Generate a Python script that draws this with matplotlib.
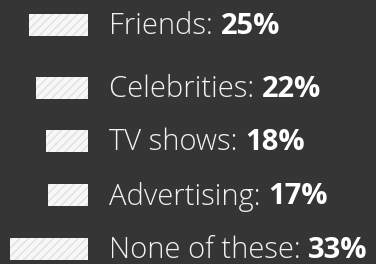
import matplotlib
matplotlib.use('Agg')
from matplotlib import pyplot as plt

# data
categories = ['Friends', 'Celebrities', 'TV shows', 'Advertising', 'None of these']
values = [25, 22, 18, 17, 33]

# layout (pixel rows of the 376x264 picture)
row_centers = [25, 88, 141, 195, 249]
bar_height = 22
px_per_pct = 2.36
bar_end_px = 88
text_px = 109

bg = '#353535'
plt.rcParams['hatch.color'] = '#dedede'
plt.rcParams['hatch.linewidth'] = 0.9

fig = plt.figure(figsize=(3.76, 2.64), dpi=100)
fig.set_facecolor(bg)
ax = fig.add_axes((0, 0, 1, 1))
ax.set_facecolor(bg)

# x in percent, bars end at 0 and grow to the left
ax.set_xlim(-bar_end_px / px_per_pct, (376 - bar_end_px) / px_per_pct)
ax.set_ylim(264, 0)
ax.axis('off')

ax.barh(row_centers, [-v for v in values], height=bar_height, left=0,
        color='#f7f7f7', edgecolor='#dedede', hatch='////', linewidth=0)

tx = (text_px - bar_end_px) / px_per_pct
for cat, v, y in zip(categories, values, row_centers):
    t = ax.text(tx, y + 1.5, cat + ': ', color='#f2f2f2', fontsize=21,
                family='Open Sans', fontweight='light', va='center', ha='left')
    ax.annotate(f'{v}%', xycoords=t, xy=(1, 0.5), va='center', ha='left',
                color='white', fontsize=21, family='Open Sans', fontweight='bold')

fig.savefig('out.png', facecolor=fig.get_facecolor())
